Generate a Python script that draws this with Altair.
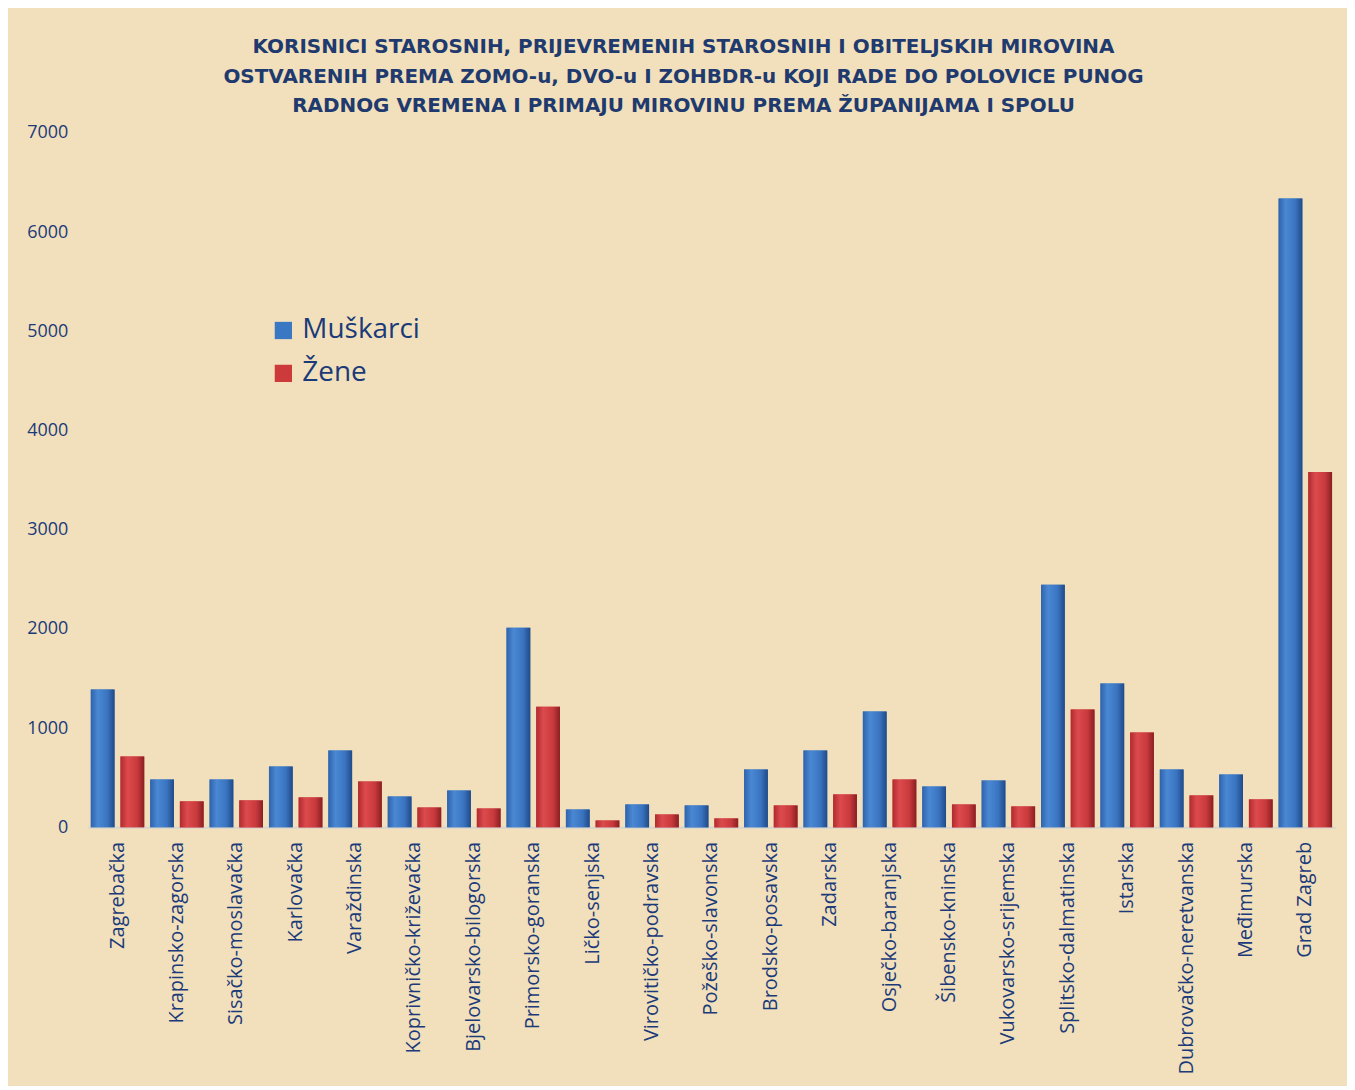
import altair as alt
import pandas as pd

counties = ["Zagrebačka", "Krapinsko-zagorska", "Sisačko-moslavačka", "Karlovačka",
            "Varaždinska", "Koprivničko-križevačka", "Bjelovarsko-bilogorska",
            "Primorsko-goranska", "Ličko-senjska", "Virovitičko-podravska",
            "Požeško-slavonska", "Brodsko-posavska", "Zadarska", "Osječko-baranjska",
            "Šibensko-kninska", "Vukovarsko-srijemska", "Splitsko-dalmatinska",
            "Istarska", "Dubrovačko-neretvanska", "Međimurska", "Grad Zagreb"]
muskarci = [1390, 483, 483, 614, 775, 312, 372, 2012, 181, 231, 221, 583, 775, 1167,
            412, 473, 2445, 1449, 583, 533, 6338]
zene = [714, 262, 272, 302, 463, 201, 191, 1217, 70, 130, 90, 221, 332, 483,
        231, 211, 1187, 956, 322, 282, 3582]
series = ["Muškarci", "Žene"]
title_lines = ["KORISNICI STAROSNIH, PRIJEVREMENIH STAROSNIH I OBITELJSKIH MIROVINA",
               "OSTVARENIH PREMA ZOMO-u, DVO-u I ZOHBDR-u KOJI RADE DO POLOVICE PUNOG",
               "RADNOG VREMENA I PRIMAJU MIROVINU PREMA ŽUPANIJAMA I SPOLU"]

rows = []
for c, m, z in zip(counties, muskarci, zene):
    rows.append({"zupanija": c, "spol": series[0], "broj": m})
    rows.append({"zupanija": c, "spol": series[1], "broj": z})
df = pd.DataFrame(rows)

navy = "#1b3a7a"
bg = "#f1e0bb"

x = alt.X("zupanija:N", sort=counties, title=None,
          scale=alt.Scale(paddingInner=0.1, paddingOuter=0.05),
          axis=alt.Axis(labelAngle=-90, labelFont="Open Sans", labelFontSize=20,
                        labelColor=navy, ticks=False, domainColor="#d8d4cc",
                        domainWidth=2, labelPadding=14, labelBaseline="middle",
                        labelAlign="right", labelLimit=400))
y = alt.Y("broj:Q", title=None,
          scale=alt.Scale(domain=[0, 7000], nice=False),
          axis=alt.Axis(values=list(range(0, 7001, 1000)), format="d", grid=False,
                        domain=False, ticks=False, labelFont="Open Sans", labelFontSize=18,
                        labelColor=navy, labelPadding=20))
xo = alt.XOffset("spol:N", sort=series, scale=alt.Scale(paddingInner=0.2, paddingOuter=0))

base = alt.Chart(df).mark_bar().encode(
    x=x, y=y, xOffset=xo,
    color=alt.Color("spol:N", sort=series,
                    scale=alt.Scale(domain=series, range=["#3a78c4", "#cc3a3c"]),
                    legend=alt.Legend(title=None, orient="none", legendX=182, legendY=184,
                                      labelFont="Open Sans", labelFontSize=28,
                                      labelColor=navy, symbolType="square",
                                      symbolSize=300, rowPadding=15,
                                      symbolStrokeWidth=0, labelOffset=5)))

blue_grad = alt.Gradient(gradient="linear", x1=0, x2=1, y1=0, y2=0, stops=[
    alt.GradientStop(offset=0, color="#2f63ab"),
    alt.GradientStop(offset=0.3, color="#4a88d4"),
    alt.GradientStop(offset=0.7, color="#3a74c0"),
    alt.GradientStop(offset=1, color="#214a88")])
red_grad = alt.Gradient(gradient="linear", x1=0, x2=1, y1=0, y2=0, stops=[
    alt.GradientStop(offset=0, color="#b02b2e"),
    alt.GradientStop(offset=0.3, color="#dc4a4d"),
    alt.GradientStop(offset=0.7, color="#c93a3d"),
    alt.GradientStop(offset=1, color="#8a1f22")])

blue = alt.Chart(df).transform_filter(alt.datum.spol == series[0]).mark_bar(
    color=blue_grad).encode(x=x, y=y, xOffset=xo)
red = alt.Chart(df).transform_filter(alt.datum.spol == series[1]).mark_bar(
    color=red_grad).encode(x=x, y=y, xOffset=xo)

chart = alt.layer(base, blue, red).properties(
    width=1250, height=696,
    background=bg,
    padding={"left": 80, "top": 124, "right": 12, "bottom": 258},
    autosize=alt.AutoSizeParams(type="none"),
    title=alt.Title(text=title_lines, font="DejaVu Sans", fontSize=20, fontWeight="bold",
                    color="#1f3a6e", lineHeight=29.5, anchor="middle", frame="group",
                    dx=-28, offset=8),
).configure_view(stroke=None, fill=bg)

chart.save("out.html", embed_options={"renderer": "svg", "actions": False})
